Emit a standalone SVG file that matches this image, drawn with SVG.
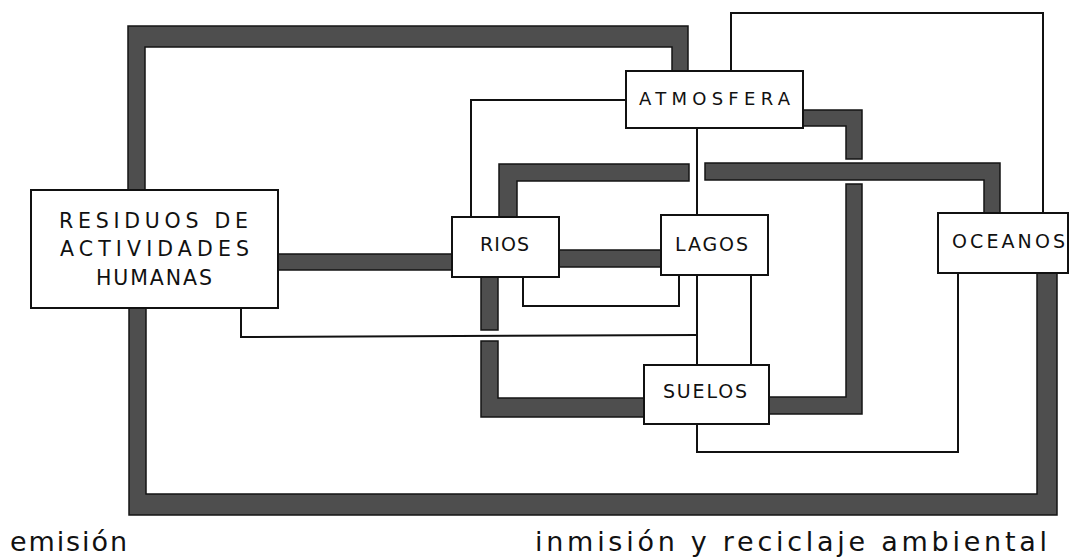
<svg xmlns="http://www.w3.org/2000/svg" width="1070" height="559" viewBox="0 0 1070 559">
<style>
.band{fill:#4e4e4e;stroke:#151515;stroke-width:1.5;stroke-linejoin:miter}
.thin{fill:none;stroke:#111;stroke-width:2;stroke-linejoin:miter}
.box{fill:#fff;stroke:#111;stroke-width:2}
.lbl{font-family:"DejaVu Sans","Liberation Sans",sans-serif;font-size:19px;fill:#111}
.big{font-family:"DejaVu Sans","Liberation Sans",sans-serif;font-size:27px;fill:#111}
</style>
<rect width="1070" height="559" fill="#fff"/>
<g id="connectors">
  <!-- thick bands -->
  <polygon class="band" points="128,190 128,26 688,26 688,71 672,71 672,47 145,47 145,190"/>
  <polygon class="band" points="129,308 129,515 1057,515 1057,273 1037,273 1037,494 146,494 146,308"/>
  <rect class="band" x="278" y="254" width="174" height="16"/>
  <rect class="band" x="559" y="250" width="102" height="17"/>
  <polygon class="band" points="499,217 499,164 689,164 689,181 517,181 517,217"/>
  <polygon class="band" points="705,163 1000,163 1000,213 984,213 984,180 705,180"/>
  <polygon class="band" points="803,110 862,110 862,159 846,159 846,126 803,126"/>
  <polygon class="band" points="846,184 862,184 862,414 769,414 769,397 846,397"/>
  <rect class="band" x="481" y="277" width="17" height="53"/>
  <polygon class="band" points="481,341 498,341 498,398 644,398 644,417 481,417"/>
  <!-- thin lines -->
  <polyline class="thin" points="626,100 471,100 471,217"/>
  <polyline class="thin" points="731,71 731,13 1043,13 1043,213"/>
  <line class="thin" x1="697" y1="128" x2="697" y2="215"/>
  <line class="thin" x1="697" y1="275" x2="697" y2="365"/>
  <line class="thin" x1="751" y1="275" x2="751" y2="365"/>
  <polyline class="thin" points="241,308 241,337 697,335"/>
  <polyline class="thin" points="523,277 523,306 679,306 679,275"/>
  <polyline class="thin" points="697,424 697,452 958,452 958,273"/>
</g>
<g id="residuos">
  <rect class="box" x="31" y="190" width="247" height="118"/>
  <text class="lbl" style="font-size:20.5px" x="59" y="228" textLength="189" lengthAdjust="spacing">RESIDUOS DE</text>
  <text class="lbl" style="font-size:20.5px" x="60" y="256" textLength="189" lengthAdjust="spacing">ACTIVIDADES</text>
  <text class="lbl" style="font-size:20.5px" x="96" y="285" textLength="116" lengthAdjust="spacing">HUMANAS</text>
</g>
<g id="atmosfera">
  <rect class="box" x="626" y="71" width="177" height="57"/>
  <text class="lbl" style="font-size:18px" x="639" y="105" textLength="151" lengthAdjust="spacing">ATMOSFERA</text>
</g>
<g id="rios">
  <rect class="box" x="452" y="217" width="107" height="60"/>
  <text class="lbl" x="480" y="251" textLength="49" lengthAdjust="spacing">RIOS</text>
</g>
<g id="lagos">
  <rect class="box" x="661" y="215" width="107" height="60"/>
  <text class="lbl" x="675" y="251" textLength="73" lengthAdjust="spacing">LAGOS</text>
</g>
<g id="oceanos">
  <rect class="box" x="938" y="213" width="130" height="60"/>
  <text class="lbl" x="952" y="248" textLength="113" lengthAdjust="spacing">OCEANOS</text>
</g>
<g id="suelos">
  <rect class="box" x="644" y="365" width="125" height="59"/>
  <text class="lbl" x="663" y="398" textLength="84" lengthAdjust="spacing">SUELOS</text>
</g>
<g id="captions">
  <text class="big" x="10" y="551" textLength="117" lengthAdjust="spacing">emisión</text>
  <text class="big" x="535" y="551" textLength="512" lengthAdjust="spacing">inmisión y reciclaje ambiental</text>
</g>
</svg>
